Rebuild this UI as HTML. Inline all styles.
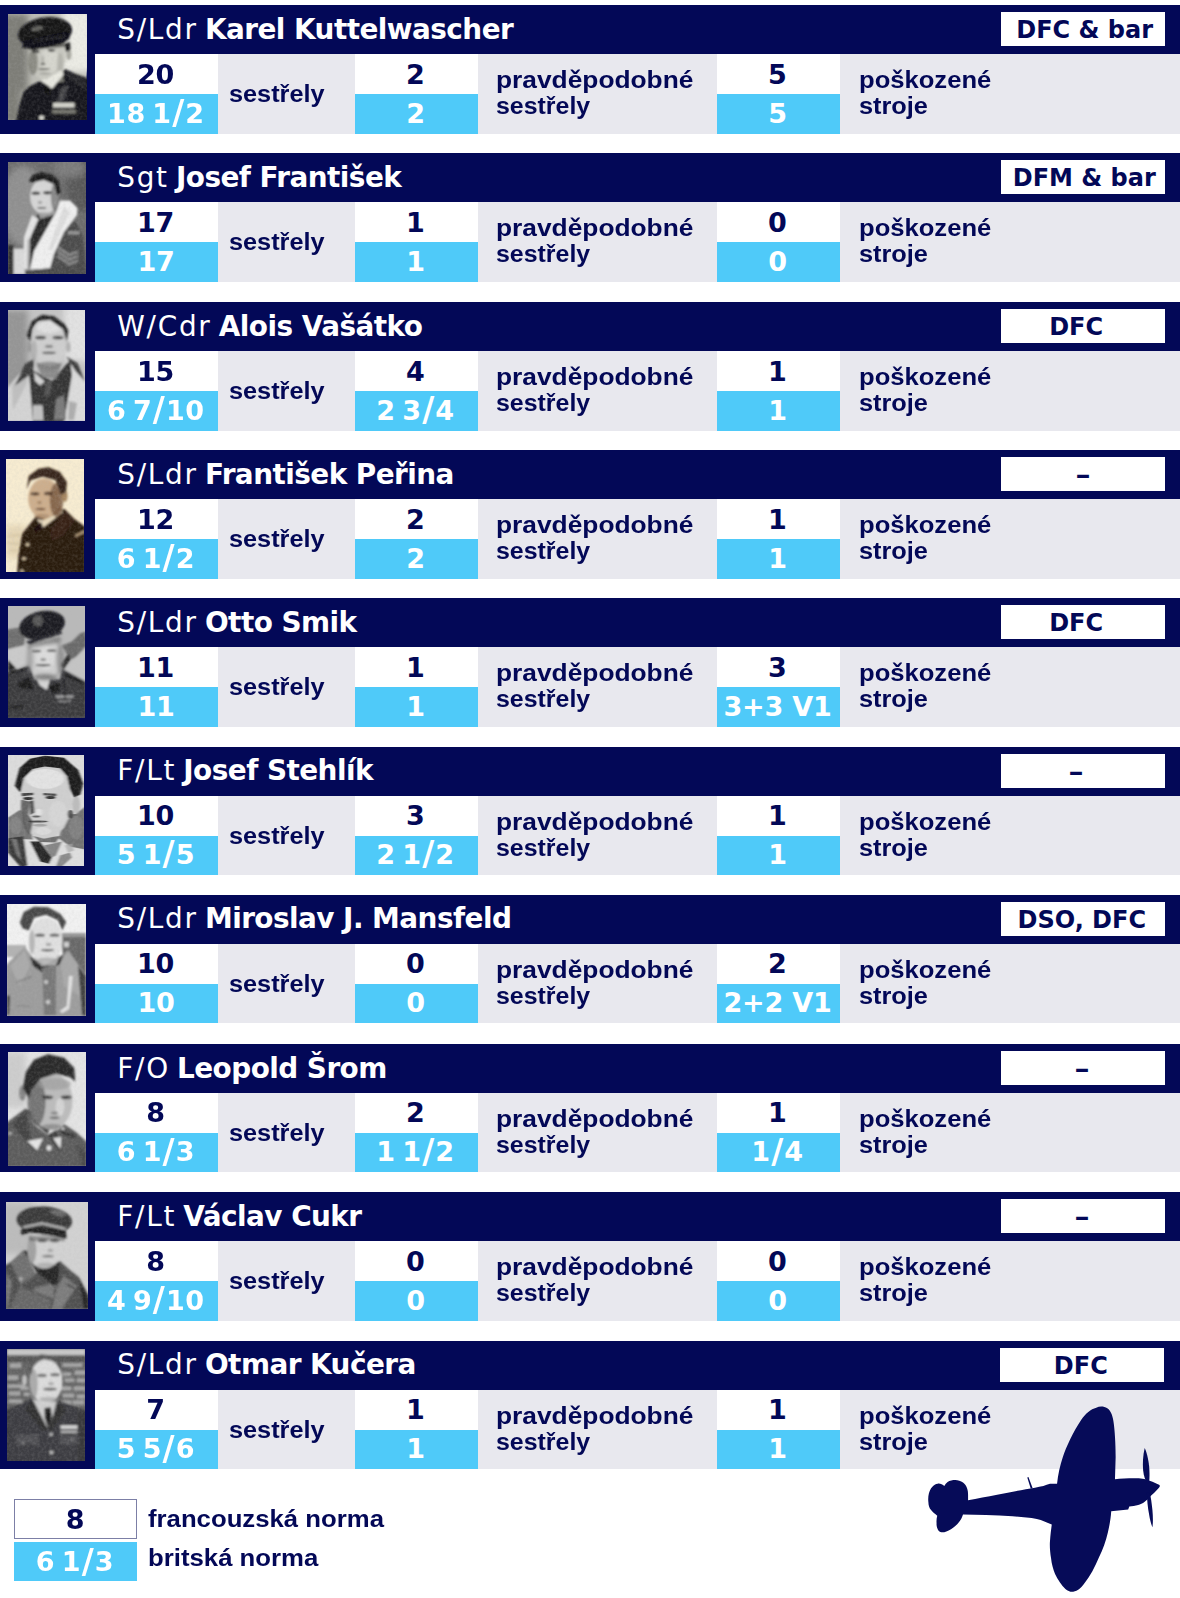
<!DOCTYPE html>
<html lang="cs"><head><meta charset="utf-8"><title>Nejúspěšnější českoslovenští stíhači</title>
<style>
html,body{margin:0;padding:0;background:#fff;}
body{width:1180px;height:1598px;position:relative;overflow:hidden;font-family:"Liberation Sans","DejaVu Sans",sans-serif;color:#030857;}
.card{position:absolute;left:0;width:1180px;height:128.7px;background:#030857;}
.grey{position:absolute;left:95px;top:49px;width:1085px;height:79.7px;background:#e8e8ee;}
.w{position:absolute;top:49px;height:40px;width:123px;background:#fff;}
.b{position:absolute;top:89px;height:39.7px;width:123px;background:#4fcaf9;}
.n{position:absolute;width:123px;text-align:center;font-family:"DejaVu Sans","Liberation Sans",sans-serif;font-weight:700;font-size:27px;letter-spacing:-0.35px;line-height:30px;height:30px;white-space:nowrap;}
.n1{top:54.5px;color:#030857;margin-left:-1px;}
.n2{top:93.8px;color:#fff;margin-left:-0.6px;}
.fr{word-spacing:-3.5px;letter-spacing:0.6px;}
.fr u{text-decoration:none;font-size:1.22em;line-height:0;position:relative;top:1.2px;margin:0 0.5px;}
.v1{letter-spacing:-0.2px;}
.l{position:absolute;font-weight:700;font-size:23.5px;line-height:26px;white-space:nowrap;color:#030857;transform-origin:0 0;}
.h{margin:0;font-weight:400;position:absolute;left:117.2px;top:8.9px;font-family:"DejaVu Sans","Liberation Sans",sans-serif;font-size:27.9px;line-height:32px;color:#fff;white-space:nowrap;}
.h b{font-weight:700;letter-spacing:-0.55px;}
.h i{font-style:normal;letter-spacing:1.75px;margin-right:-1.7px;}
.badge{position:absolute;left:1001.4px;top:7px;width:163.6px;height:34px;background:#fff;}
.bt{position:absolute;top:8.2px;height:34px;line-height:34px;font-family:"DejaVu Sans","Liberation Sans",sans-serif;font-weight:700;font-size:24px;white-space:nowrap;transform:translateX(-50%);color:#030857;}
.ph{position:absolute;overflow:hidden;}
.ph svg{display:block;}
.lg{position:absolute;left:13.5px;width:123px;}
</style></head><body>
<section class="card" style="top:5.1px">
<div class="grey"></div>
<div class="ph" style="left:8px;top:8.9px;width:78.5px;height:106.5px"><svg width="78.5" height="106.5" viewBox="80 140 785 1065" preserveAspectRatio="none"><defs><filter id="f0" filterUnits="userSpaceOnUse" x="-20" y="40" width="985" height="1265"><feGaussianBlur stdDeviation="8"/></filter><filter id="g0" filterUnits="userSpaceOnUse" x="-120" y="-60" width="1185" height="1465"><feGaussianBlur stdDeviation="32"/></filter><filter id="m0" filterUnits="userSpaceOnUse" x="-120" y="-60" width="1185" height="1465"><feGaussianBlur stdDeviation="16"/></filter><filter id="n0" x="0" y="0" width="100%" height="100%"><feTurbulence type="fractalNoise" baseFrequency="0.035" numOctaves="2" seed="3"/><feColorMatrix type="matrix" values="0 0 0 0 0.5  0 0 0 0 0.5  0 0 0 0 0.5  0.9 0 0 0 -0.32"/></filter></defs><rect x="80" y="140" width="785" height="1065" fill="#bdbdb6"/><rect x="20" y="140" width="260" height="1100" fill="#7d7d77" filter="url(#g0)"/><rect x="620" y="100" width="300" height="620" fill="#ecece5" filter="url(#g0)"/><rect x="200" y="900" width="120" height="320" fill="#a5a59f" filter="url(#g0)"/><g filter="url(#f0)"><polygon points="150,1260 195,1050 235,920 300,860 400,810 560,800 650,690 760,740 900,790 900,1260" fill="#17171b"/><polygon points="640,700 760,745 865,790 865,900 700,800" fill="#2c2c30" opacity="0.8"/><polygon points="400,760 620,700 640,820 420,830" fill="#77776f"/><polygon points="290,470 650,440 655,600 610,720 520,800 420,805 330,730 290,600" fill="#c8c8c0"/><ellipse cx="500" cy="600" rx="90" ry="130" fill="#dcdcd4" opacity="0.7"/><ellipse cx="330" cy="620" rx="48" ry="130" fill="#77776f" opacity="0.75"/><ellipse cx="600" cy="640" rx="30" ry="110" fill="#a0a098" opacity="0.5"/><ellipse cx="688" cy="545" rx="26" ry="55" fill="#a8a8a0"/><polygon points="640,440 700,420 705,500 660,520" fill="#1a1a1c"/><polygon points="285,462 640,430 640,470 290,500" fill="#3c3c38" opacity="0.7"/><ellipse cx="358" cy="517" rx="36" ry="14" fill="#262624" opacity="0.9"/><ellipse cx="515" cy="503" rx="36" ry="14" fill="#262624" opacity="0.9"/><ellipse cx="428" cy="600" rx="14" ry="45" fill="#9a9a92" opacity="0.6"/><ellipse cx="430" cy="640" rx="24" ry="12" fill="#55554f" opacity="0.8"/><ellipse cx="440" cy="692" rx="60.0" ry="9" fill="#44443f" opacity="0.8"/><ellipse cx="450" cy="735" rx="60" ry="14" fill="#9a9a92" opacity="0.6"/><polygon points="400,800 520,890 640,740 610,700 470,790" fill="#e8e8e0"/><polygon points="430,865 480,850 505,950 455,935" fill="#0e0e10"/><ellipse cx="450" cy="325" rx="272" ry="150" fill="#121216" transform="rotate(-8 450 325)"/><polygon points="215,470 330,500 620,440 700,380 660,330 250,420" fill="#101014"/><ellipse cx="370" cy="285" rx="62" ry="24" fill="#77776f" transform="rotate(-12 370 285)" opacity="0.8"/><line x1="330" y1="420" x2="640" y2="360" stroke="#3a3a3e" stroke-width="10" stroke-linecap="round" opacity="0.9"/><polygon points="610,880 690,850 640,1000 560,1050" fill="#46464a"/><rect x="530" y="1028" width="215" height="48" fill="#d4d4cc"/><rect x="520" y="1098" width="240" height="38" fill="#77776f"/><ellipse cx="415" cy="1178" rx="26" ry="22" fill="#deded6"/></g><rect x="80" y="140" width="785" height="1065" filter="url(#n0)" opacity="0.35"/></svg></div>
<h2 class="h"><i>S/Ldr</i> <b>Karel Kuttelwascher</b></h2>
<div class="badge"></div>
<div class="bt" style="left:1084.6px">DFC &amp; bar</div>
<div class="w" style="left:95px"></div><div class="b" style="left:95px"></div>
<div class="n n1" style="left:95px">20</div><div class="n n2 fr" style="left:95px">18 1<u>/</u>2</div>
<div class="w" style="left:354.6px"></div><div class="b" style="left:354.6px"></div>
<div class="n n1" style="left:354.6px">2</div><div class="n n2" style="left:354.6px">2</div>
<div class="w" style="left:716.6px"></div><div class="b" style="left:716.6px"></div>
<div class="n n1" style="left:716.6px">5</div><div class="n n2" style="left:716.6px">5</div>
<div class="l" style="left:228.6px;top:76.3px;transform:scaleX(1.075)">sestřely</div>
<div class="l" style="left:496.1px;top:62.3px;transform:scaleX(1.12)">pravděpodobné</div>
<div class="l" style="left:496.1px;top:88.3px;transform:scaleX(1.06)">sestřely</div>
<div class="l" style="left:859.3px;top:62.1px;transform:scaleX(1.089)">poškozené</div>
<div class="l" style="left:859.3px;top:88.1px;transform:scaleX(1.077)">stroje</div>
</section>
<section class="card" style="top:153.1px">
<div class="grey"></div>
<div class="ph" style="left:8px;top:8.9px;width:78px;height:112.5px"><svg width="78" height="112.5" viewBox="80 120 780 1125" preserveAspectRatio="none"><defs><filter id="f1" filterUnits="userSpaceOnUse" x="-20" y="20" width="980" height="1325"><feGaussianBlur stdDeviation="8"/></filter><filter id="g1" filterUnits="userSpaceOnUse" x="-120" y="-80" width="1180" height="1525"><feGaussianBlur stdDeviation="32"/></filter><filter id="m1" filterUnits="userSpaceOnUse" x="-120" y="-80" width="1180" height="1525"><feGaussianBlur stdDeviation="16"/></filter><filter id="n1" x="0" y="0" width="100%" height="100%"><feTurbulence type="fractalNoise" baseFrequency="0.035" numOctaves="2" seed="4"/><feColorMatrix type="matrix" values="0 0 0 0 0.5  0 0 0 0 0.5  0 0 0 0 0.5  0.9 0 0 0 -0.32"/></filter></defs><rect x="80" y="120" width="780" height="1125" fill="#6d6d6d"/><ellipse cx="230" cy="560" rx="220" ry="400" fill="#8f8f8f" filter="url(#g1)"/><ellipse cx="820" cy="300" rx="160" ry="320" fill="#585858" filter="url(#g1)"/><ellipse cx="700" cy="180" rx="160" ry="100" fill="#7c7c7c" filter="url(#g1)"/><g filter="url(#f1)"><polygon points="650,680 760,720 830,860 870,1260 480,1260 540,1000" fill="#4c4c4c"/><polygon points="575,955 690,1035 780,1005 780,1030 690,1065 575,985" fill="#9a9a9a" opacity="0.8"/><polygon points="575,1000 690,1080 780,1050 780,1075 690,1110 575,1030" fill="#9a9a9a" opacity="0.8"/><polygon points="575,1045 690,1125 780,1095 780,1120 690,1155 575,1075" fill="#9a9a9a" opacity="0.8"/><rect x="680" y="812" width="115" height="32" fill="#b0b0b0" opacity="0.75"/><polygon points="370,640 590,570 340,1050 290,1200 300,900" fill="#2a2a2a"/><polygon points="600,505 700,505 775,580 770,650 640,820 540,1040 500,1185 300,1195 340,1010 470,780 560,620" fill="#efefef"/><polygon points="640,560 700,620 520,1000 480,1000" fill="#d0d0d0" opacity="0.6"/><polygon points="320,650 385,690 300,880 290,1195 225,1195 240,870" fill="#e4e4e4"/><polygon points="275,900 300,880 295,1190 270,1190" fill="#9a9a9a" opacity="0.7"/><polygon points="130,985 235,985 250,1245 130,1245" fill="#dadada"/><rect x="80" y="950" width="55" height="300" fill="#303030"/><polygon points="250,1210 500,1180 600,1245 250,1245" fill="#484848"/><polygon points="380,600 540,560 560,640 400,690" fill="#9c9c9c"/><ellipse cx="440" cy="465" rx="140" ry="178" fill="#d6d6d6"/><ellipse cx="550" cy="470" rx="42" ry="140" fill="#7c7c7c" opacity="0.85"/><ellipse cx="358" cy="432" rx="44" ry="17" fill="#2c2c2c" opacity="0.85"/><ellipse cx="475" cy="428" rx="44" ry="17" fill="#2c2c2c" opacity="0.85"/><ellipse cx="400" cy="525" rx="22" ry="14" fill="#888" opacity="0.7"/><ellipse cx="418" cy="580" rx="46.0" ry="11" fill="#4a4a4a" opacity="0.8"/><ellipse cx="430" cy="640" rx="80" ry="20" fill="#999" opacity="0.6"/><polygon points="290,310 325,250 420,222 520,248 588,310 605,430 565,450 545,345 440,300 320,325" fill="#1c1c1c"/></g><rect x="80" y="120" width="780" height="1125" filter="url(#n1)" opacity="0.35"/></svg></div>
<h2 class="h"><i>Sgt</i> <b>Josef František</b></h2>
<div class="badge"></div>
<div class="bt" style="left:1084.3px">DFM &amp; bar</div>
<div class="w" style="left:95px"></div><div class="b" style="left:95px"></div>
<div class="n n1" style="left:95px">17</div><div class="n n2" style="left:95px">17</div>
<div class="w" style="left:354.6px"></div><div class="b" style="left:354.6px"></div>
<div class="n n1" style="left:354.6px">1</div><div class="n n2" style="left:354.6px">1</div>
<div class="w" style="left:716.6px"></div><div class="b" style="left:716.6px"></div>
<div class="n n1" style="left:716.6px">0</div><div class="n n2" style="left:716.6px">0</div>
<div class="l" style="left:228.6px;top:76.3px;transform:scaleX(1.075)">sestřely</div>
<div class="l" style="left:496.1px;top:62.3px;transform:scaleX(1.12)">pravděpodobné</div>
<div class="l" style="left:496.1px;top:88.3px;transform:scaleX(1.06)">sestřely</div>
<div class="l" style="left:859.3px;top:62.1px;transform:scaleX(1.089)">poškozené</div>
<div class="l" style="left:859.3px;top:88.1px;transform:scaleX(1.077)">stroje</div>
</section>
<section class="card" style="top:302.0px">
<div class="grey"></div>
<div class="ph" style="left:8px;top:8.0px;width:77px;height:110.5px"><svg width="77" height="110.5" viewBox="80 150 770 1105" preserveAspectRatio="none"><defs><filter id="f2" filterUnits="userSpaceOnUse" x="-20" y="50" width="970" height="1305"><feGaussianBlur stdDeviation="8"/></filter><filter id="g2" filterUnits="userSpaceOnUse" x="-120" y="-50" width="1170" height="1505"><feGaussianBlur stdDeviation="32"/></filter><filter id="m2" filterUnits="userSpaceOnUse" x="-120" y="-50" width="1170" height="1505"><feGaussianBlur stdDeviation="16"/></filter><filter id="n2" x="0" y="0" width="100%" height="100%"><feTurbulence type="fractalNoise" baseFrequency="0.035" numOctaves="2" seed="5"/><feColorMatrix type="matrix" values="0 0 0 0 0.5  0 0 0 0 0.5  0 0 0 0 0.5  0.9 0 0 0 -0.32"/></filter></defs><rect x="80" y="150" width="770" height="1105" fill="#c4c4c4"/><rect x="20" y="150" width="260" height="760" fill="#959595" filter="url(#g2)"/><rect x="640" y="100" width="260" height="560" fill="#e2e2e2" filter="url(#g2)"/><g filter="url(#f2)"><polygon points="60,960 130,860 310,660 360,760 330,1270 60,1270" fill="#d4d4d4"/><polygon points="660,620 760,680 870,880 870,1270 630,1270 700,800" fill="#dcdcdc"/><polygon points="120,900 300,700 260,900 130,1150" fill="#aaa" opacity="0.5"/><polygon points="280,700 340,760 520,860 700,650 720,800 640,1270 330,1270 300,900" fill="#363636"/><polygon points="250,690 335,640 335,770 150,905" fill="#3e3e3e"/><polygon points="660,615 775,680 850,865 755,760" fill="#3e3e3e"/><polygon points="340,770 450,865 400,905 350,860" fill="#d4d4d4"/><polygon points="460,870 520,860 500,1000 440,1010" fill="#555"/><polygon points="330,1100 425,1100 435,1255 330,1255" fill="#c2c2c2"/><polygon points="560,1040 640,1000 660,1250 540,1250" fill="#7a7a7a"/><polygon points="690,1060 770,1080 740,1250 680,1250" fill="#999" opacity="0.7"/><polygon points="360,680 620,680 560,840 420,820" fill="#8a8a8a"/><ellipse cx="490" cy="480" rx="178" ry="232" fill="#cfcfcf"/><ellipse cx="490" cy="320" rx="130" ry="60" fill="#e4e4e4" opacity="0.8"/><ellipse cx="490" cy="705" rx="110" ry="40" fill="#7a7a7a" opacity="0.7"/><ellipse cx="405" cy="425" rx="55" ry="18" fill="#333" opacity="0.85"/><ellipse cx="580" cy="425" rx="55" ry="18" fill="#333" opacity="0.85"/><ellipse cx="490" cy="515" rx="40" ry="14" fill="#555" opacity="0.7"/><ellipse cx="490" cy="578" rx="70.0" ry="13" fill="#444" opacity="0.8"/><ellipse cx="290" cy="520" rx="24" ry="52" fill="#9a9a9a"/><ellipse cx="682" cy="520" rx="22" ry="52" fill="#b0b0b0"/><ellipse cx="340" cy="560" rx="30" ry="110" fill="#999" opacity="0.5"/><polygon points="268,400 318,262 420,198 540,212 642,288 682,352 668,470 632,342 500,248 380,258 322,330 306,470" fill="#202020"/></g><rect x="80" y="150" width="770" height="1105" filter="url(#n2)" opacity="0.35"/></svg></div>
<h2 class="h"><i>W/Cdr</i> <b>Alois Vašátko</b></h2>
<div class="badge"></div>
<div class="bt" style="left:1076.1px">DFC</div>
<div class="w" style="left:95px"></div><div class="b" style="left:95px"></div>
<div class="n n1" style="left:95px">15</div><div class="n n2 fr" style="left:95px">6 7<u>/</u>10</div>
<div class="w" style="left:354.6px"></div><div class="b" style="left:354.6px"></div>
<div class="n n1" style="left:354.6px">4</div><div class="n n2 fr" style="left:354.6px">2 3<u>/</u>4</div>
<div class="w" style="left:716.6px"></div><div class="b" style="left:716.6px"></div>
<div class="n n1" style="left:716.6px">1</div><div class="n n2" style="left:716.6px">1</div>
<div class="l" style="left:228.6px;top:76.3px;transform:scaleX(1.075)">sestřely</div>
<div class="l" style="left:496.1px;top:62.3px;transform:scaleX(1.12)">pravděpodobné</div>
<div class="l" style="left:496.1px;top:88.3px;transform:scaleX(1.06)">sestřely</div>
<div class="l" style="left:859.3px;top:62.1px;transform:scaleX(1.089)">poškozené</div>
<div class="l" style="left:859.3px;top:88.1px;transform:scaleX(1.077)">stroje</div>
</section>
<section class="card" style="top:450.1px">
<div class="grey"></div>
<div class="ph" style="left:5.5px;top:8.9px;width:78.5px;height:113.5px"><svg width="78.5" height="113.5" viewBox="55 190 785 1135" preserveAspectRatio="none"><defs><filter id="f3" filterUnits="userSpaceOnUse" x="-45" y="90" width="985" height="1335"><feGaussianBlur stdDeviation="8"/></filter><filter id="g3" filterUnits="userSpaceOnUse" x="-145" y="-10" width="1185" height="1535"><feGaussianBlur stdDeviation="32"/></filter><filter id="m3" filterUnits="userSpaceOnUse" x="-145" y="-10" width="1185" height="1535"><feGaussianBlur stdDeviation="16"/></filter><filter id="n3" x="0" y="0" width="100%" height="100%"><feTurbulence type="fractalNoise" baseFrequency="0.035" numOctaves="2" seed="6"/><feColorMatrix type="matrix" values="0 0 0 0 0.5  0 0 0 0 0.5  0 0 0 0 0.5  0.9 0 0 0 -0.32"/></filter></defs><rect x="55" y="190" width="785" height="1135" fill="#f7ecd1"/><rect x="55" y="850" width="200" height="330" fill="#e2d2b0" filter="url(#g3)" opacity="0.8"/><g filter="url(#f3)"><line x1="70" y1="960" x2="200" y2="950" stroke="#c9b894" stroke-width="12" stroke-linecap="round" opacity="0.7"/><line x1="70" y1="1030" x2="190" y2="1040" stroke="#c9b894" stroke-width="12" stroke-linecap="round" opacity="0.7"/><line x1="90" y1="1100" x2="180" y2="1110" stroke="#c9b894" stroke-width="12" stroke-linecap="round" opacity="0.6"/><polygon points="165,1340 180,1150 215,940 350,770 640,690 740,790 850,870 850,1340" fill="#2c1a10"/><polygon points="500,900 640,720 740,800 620,960 520,1000" fill="#3a2418" opacity="0.9"/><polygon points="360,790 430,872 625,722 600,698 420,800" fill="#eadcbe"/><polygon points="335,885 412,822 422,885 352,915" fill="#1c100a"/><ellipse cx="270" cy="1045" rx="19" ry="16" fill="#dccba8"/><ellipse cx="235" cy="1185" rx="19" ry="16" fill="#dccba8"/><ellipse cx="215" cy="1310" rx="19" ry="14" fill="#dccba8"/><polygon points="745,950 840,900 840,928 750,972" fill="#b59e7a"/><polygon points="380,740 600,660 610,720 430,800" fill="#9a7a5c"/><ellipse cx="435" cy="585" rx="158" ry="200" fill="#cdae8c"/><ellipse cx="560" cy="600" rx="68" ry="170" fill="#76563e" opacity="0.8"/><ellipse cx="642" cy="560" rx="28" ry="60" fill="#a5855f"/><ellipse cx="345" cy="538" rx="46" ry="17" fill="#3a2416" opacity="0.85"/><ellipse cx="480" cy="534" rx="46" ry="17" fill="#3a2416" opacity="0.85"/><ellipse cx="390" cy="625" rx="24" ry="14" fill="#8a6a4e" opacity="0.7"/><ellipse cx="400" cy="690" rx="50.0" ry="11" fill="#4e2e1e" opacity="0.8"/><ellipse cx="410" cy="760" rx="80" ry="20" fill="#9c7c5e" opacity="0.6"/><polygon points="262,495 282,360 380,288 480,272 592,318 664,420 655,525 602,545 552,402 420,368 300,402" fill="#38261a"/></g><rect x="55" y="190" width="785" height="1135" filter="url(#n3)" opacity="0.35"/></svg></div>
<h2 class="h"><i>S/Ldr</i> <b>František Peřina</b></h2>
<div class="badge"></div>
<div class="bt" style="left:1082.9px;top:8.2px;transform:translateX(-50%) scaleX(1.25)">–</div>
<div class="w" style="left:95px"></div><div class="b" style="left:95px"></div>
<div class="n n1" style="left:95px">12</div><div class="n n2 fr" style="left:95px">6 1<u>/</u>2</div>
<div class="w" style="left:354.6px"></div><div class="b" style="left:354.6px"></div>
<div class="n n1" style="left:354.6px">2</div><div class="n n2" style="left:354.6px">2</div>
<div class="w" style="left:716.6px"></div><div class="b" style="left:716.6px"></div>
<div class="n n1" style="left:716.6px">1</div><div class="n n2" style="left:716.6px">1</div>
<div class="l" style="left:228.6px;top:76.3px;transform:scaleX(1.075)">sestřely</div>
<div class="l" style="left:496.1px;top:62.3px;transform:scaleX(1.12)">pravděpodobné</div>
<div class="l" style="left:496.1px;top:88.3px;transform:scaleX(1.06)">sestřely</div>
<div class="l" style="left:859.3px;top:62.1px;transform:scaleX(1.089)">poškozené</div>
<div class="l" style="left:859.3px;top:88.1px;transform:scaleX(1.077)">stroje</div>
</section>
<section class="card" style="top:598.1px">
<div class="grey"></div>
<div class="ph" style="left:8px;top:8.4px;width:77px;height:111.5px"><svg width="77" height="111.5" viewBox="80 165 770 1115" preserveAspectRatio="none"><defs><filter id="f4" filterUnits="userSpaceOnUse" x="-20" y="65" width="970" height="1315"><feGaussianBlur stdDeviation="8"/></filter><filter id="g4" filterUnits="userSpaceOnUse" x="-120" y="-35" width="1170" height="1515"><feGaussianBlur stdDeviation="32"/></filter><filter id="m4" filterUnits="userSpaceOnUse" x="-120" y="-35" width="1170" height="1515"><feGaussianBlur stdDeviation="16"/></filter><filter id="n4" x="0" y="0" width="100%" height="100%"><feTurbulence type="fractalNoise" baseFrequency="0.035" numOctaves="2" seed="7"/><feColorMatrix type="matrix" values="0 0 0 0 0.5  0 0 0 0 0.5  0 0 0 0 0.5  0.9 0 0 0 -0.32"/></filter></defs><rect x="80" y="165" width="770" height="1115" fill="#b9b9b9"/><g filter="url(#f4)"><polygon points="60,400 200,380 250,470 240,560 60,600" fill="#6e6e6e"/><polygon points="620,560 720,520 800,440 860,420 860,640 700,700" fill="#6a6a6a"/><polygon points="80,600 250,555 320,700 180,790 80,700" fill="#cacaca"/><polygon points="640,800 860,570 860,920" fill="#c4c4c4"/><polygon points="80,700 160,790 80,820" fill="#202020"/><polygon points="600,760 685,640 705,700 640,800" fill="#2c2c2c"/><polygon points="60,830 300,760 340,900 600,900 620,790 860,920 860,1290 60,1290" fill="#3a3a3e"/><polygon points="170,940 300,870 335,1000 200,990" fill="#1e1e1e"/><polygon points="480,960 600,930 600,1020 520,1040" fill="#1e1e1e"/><polygon points="90,820 280,775 270,800 100,850" fill="#1c1c1c"/><polygon points="640,830 830,920 820,950 640,860" fill="#1c1c1c"/><polygon points="330,830 400,960 470,1005 500,900 420,880" fill="#d6d6d6"/><rect x="560" y="1058" width="175" height="26" fill="#b0b0b0" opacity="0.85"/><rect x="580" y="1105" width="130" height="22" fill="#8a8a8a" opacity="0.8"/><polygon points="80,1160 250,1150 230,1200 80,1190" fill="#222" opacity="0.7"/><line x1="640" y1="900" x2="650" y2="1100" stroke="#1a1a1a" stroke-width="16" stroke-linecap="round" opacity="0.8"/><ellipse cx="448" cy="690" rx="165" ry="195" fill="#cfcfcf"/><ellipse cx="455" cy="680" rx="95" ry="120" fill="#e0e0e0" filter="url(#m4)" opacity="0.8"/><ellipse cx="298" cy="700" rx="32" ry="140" fill="#8a8a8a" filter="url(#m4)" opacity="0.6"/><ellipse cx="603" cy="700" rx="36" ry="150" fill="#7a7a7a" filter="url(#m4)" opacity="0.7"/><polygon points="285,530 605,470 610,530 290,580" fill="#606060" filter="url(#m4)" opacity="0.6"/><ellipse cx="365" cy="617" rx="48" ry="11" fill="#3a3a3a" opacity="0.85"/><ellipse cx="515" cy="612" rx="48" ry="11" fill="#3a3a3a" opacity="0.85"/><ellipse cx="432" cy="702" rx="30" ry="14" fill="#777" opacity="0.8"/><ellipse cx="432" cy="757" rx="77.5" ry="13" fill="#3c3c3c" opacity="0.8"/><ellipse cx="450" cy="875" rx="120" ry="30" fill="#6a6a6a" filter="url(#m4)" opacity="0.8"/><ellipse cx="420" cy="358" rx="232" ry="140" fill="#1c1c20" transform="rotate(-12 420 358)"/><polygon points="258,522 600,408 625,440 300,548" fill="#2c2c30"/><ellipse cx="378" cy="312" rx="52" ry="58" fill="#6a6a6a" opacity="0.75"/></g><rect x="80" y="165" width="770" height="1115" filter="url(#n4)" opacity="0.35"/></svg></div>
<h2 class="h"><i>S/Ldr</i> <b>Otto Smik</b></h2>
<div class="badge"></div>
<div class="bt" style="left:1076.1px">DFC</div>
<div class="w" style="left:95px"></div><div class="b" style="left:95px"></div>
<div class="n n1" style="left:95px">11</div><div class="n n2" style="left:95px">11</div>
<div class="w" style="left:354.6px"></div><div class="b" style="left:354.6px"></div>
<div class="n n1" style="left:354.6px">1</div><div class="n n2" style="left:354.6px">1</div>
<div class="w" style="left:716.6px"></div><div class="b" style="left:716.6px"></div>
<div class="n n1" style="left:716.6px">3</div><div class="n n2 v1" style="left:716.6px">3+3 V1</div>
<div class="l" style="left:228.6px;top:76.3px;transform:scaleX(1.075)">sestřely</div>
<div class="l" style="left:496.1px;top:62.3px;transform:scaleX(1.12)">pravděpodobné</div>
<div class="l" style="left:496.1px;top:88.3px;transform:scaleX(1.06)">sestřely</div>
<div class="l" style="left:859.3px;top:62.1px;transform:scaleX(1.089)">poškozené</div>
<div class="l" style="left:859.3px;top:88.1px;transform:scaleX(1.077)">stroje</div>
</section>
<section class="card" style="top:746.5px">
<div class="grey"></div>
<div class="ph" style="left:8px;top:8.5px;width:76px;height:111px"><svg width="76" height="111" viewBox="80 170 760 1115" preserveAspectRatio="none"><defs><filter id="f5" filterUnits="userSpaceOnUse" x="-20" y="70" width="960" height="1315"><feGaussianBlur stdDeviation="8"/></filter><filter id="g5" filterUnits="userSpaceOnUse" x="-120" y="-30" width="1160" height="1515"><feGaussianBlur stdDeviation="32"/></filter><filter id="m5" filterUnits="userSpaceOnUse" x="-120" y="-30" width="1160" height="1515"><feGaussianBlur stdDeviation="16"/></filter><filter id="n5" x="0" y="0" width="100%" height="100%"><feTurbulence type="fractalNoise" baseFrequency="0.035" numOctaves="2" seed="8"/><feColorMatrix type="matrix" values="0 0 0 0 0.5  0 0 0 0 0.5  0 0 0 0 0.5  0.9 0 0 0 -0.32"/></filter></defs><rect x="80" y="170" width="760" height="1115" fill="#dcdcdc"/><g filter="url(#f5)"><polygon points="230,980 600,990 700,1080 850,1110 850,1300 230,1300" fill="#dedede"/><polygon points="80,800 200,720 300,900 330,1020 80,1010" fill="#767676"/><polygon points="640,780 760,760 850,690 850,1120 700,1090 590,1010" fill="#727272"/><ellipse cx="760" cy="900" rx="70" ry="120" fill="#8a8a8a" opacity="0.6"/><ellipse cx="160" cy="880" rx="60" ry="90" fill="#8c8c8c" opacity="0.6"/><polygon points="80,1005 235,985 275,1280 200,1290 80,1150" fill="#3a3a3a"/><polygon points="110,1010 170,1020 215,1230 170,1180" fill="#8a8a8a" opacity="0.7"/><polygon points="300,1040 400,1040 520,1200 490,1262 400,1240" fill="#282828"/><polygon points="440,1080 620,1040 560,1180 520,1200" fill="#858585"/><polygon points="600,1180 700,1150 720,1200 620,1290 560,1290" fill="#8a8a8a"/><polygon points="650,1080 720,1060 740,1130 680,1150" fill="#aaa" opacity="0.7"/><polygon points="330,985 600,985 560,1050 400,1045" fill="#5a5a5a" opacity="0.85"/><polygon points="215,540 240,400 330,310 450,285 600,300 670,380 700,520 722,640 700,780 640,900 560,985 440,1012 330,982 260,900 215,760" fill="#cfcfcf"/><ellipse cx="450" cy="410" rx="190" ry="100" fill="#e6e6e6" opacity="0.85"/><ellipse cx="580" cy="760" rx="90" ry="130" fill="#dadada" opacity="0.6"/><polygon points="212,620 300,640 285,770 330,840 300,978 238,892 208,760" fill="#545454" opacity="0.85"/><polygon points="215,555 335,548 335,572 218,585" fill="#2a2a2a" opacity="0.85"/><polygon points="430,552 565,560 565,582 430,575" fill="#2a2a2a" opacity="0.8"/><ellipse cx="282" cy="606" rx="52" ry="15" fill="#222" opacity="0.9"/><ellipse cx="505" cy="596" rx="52" ry="15" fill="#222" opacity="0.9"/><polygon points="298,632 336,626 346,748 300,772" fill="#383838" opacity="0.85"/><ellipse cx="388" cy="742" rx="36" ry="32" fill="#e6e6e6" opacity="0.8"/><ellipse cx="362" cy="788" rx="42" ry="10" fill="#4a4a4a" opacity="0.8"/><ellipse cx="380" cy="838" rx="100.0" ry="10" fill="#303030" opacity="0.8"/><ellipse cx="400" cy="875" rx="70" ry="14" fill="#8a8a8a" opacity="0.6"/><ellipse cx="430" cy="935" rx="80" ry="38" fill="#e0e0e0" opacity="0.7"/><ellipse cx="762" cy="670" rx="40" ry="90" fill="#bcbcbc"/><ellipse cx="705" cy="765" rx="28" ry="42" fill="#3a3a3a" opacity="0.8"/><polygon points="148,478 196,300 300,208 450,178 640,198 782,320 832,460 802,568 742,598 700,520 668,380 600,302 450,286 330,310 238,402 205,548" fill="#1d1d1d"/></g><rect x="80" y="170" width="760" height="1115" filter="url(#n5)" opacity="0.35"/></svg></div>
<h2 class="h"><i>F/Lt</i> <b>Josef Stehlík</b></h2>
<div class="badge"></div>
<div class="bt" style="left:1076.2px;top:8.2px;transform:translateX(-50%) scaleX(1.25)">–</div>
<div class="w" style="left:95px"></div><div class="b" style="left:95px"></div>
<div class="n n1" style="left:95px">10</div><div class="n n2 fr" style="left:95px">5 1<u>/</u>5</div>
<div class="w" style="left:354.6px"></div><div class="b" style="left:354.6px"></div>
<div class="n n1" style="left:354.6px">3</div><div class="n n2 fr" style="left:354.6px">2 1<u>/</u>2</div>
<div class="w" style="left:716.6px"></div><div class="b" style="left:716.6px"></div>
<div class="n n1" style="left:716.6px">1</div><div class="n n2" style="left:716.6px">1</div>
<div class="l" style="left:228.6px;top:76.3px;transform:scaleX(1.075)">sestřely</div>
<div class="l" style="left:496.1px;top:62.3px;transform:scaleX(1.12)">pravděpodobné</div>
<div class="l" style="left:496.1px;top:88.3px;transform:scaleX(1.06)">sestřely</div>
<div class="l" style="left:859.3px;top:62.1px;transform:scaleX(1.089)">poškozené</div>
<div class="l" style="left:859.3px;top:88.1px;transform:scaleX(1.077)">stroje</div>
</section>
<section class="card" style="top:894.6px">
<div class="grey"></div>
<div class="ph" style="left:7px;top:9.4px;width:79px;height:112px"><svg width="79" height="112" viewBox="70 180 790 1120" preserveAspectRatio="none"><defs><filter id="f6" filterUnits="userSpaceOnUse" x="-30" y="80" width="990" height="1320"><feGaussianBlur stdDeviation="8"/></filter><filter id="g6" filterUnits="userSpaceOnUse" x="-130" y="-20" width="1190" height="1520"><feGaussianBlur stdDeviation="32"/></filter><filter id="m6" filterUnits="userSpaceOnUse" x="-130" y="-20" width="1190" height="1520"><feGaussianBlur stdDeviation="16"/></filter><filter id="n6" x="0" y="0" width="100%" height="100%"><feTurbulence type="fractalNoise" baseFrequency="0.035" numOctaves="2" seed="9"/><feColorMatrix type="matrix" values="0 0 0 0 0.5  0 0 0 0 0.5  0 0 0 0 0.5  0.9 0 0 0 -0.32"/></filter></defs><rect x="70" y="180" width="790" height="1120" fill="#f1f1f1"/><g filter="url(#f6)"><polygon points="600,470 860,470 860,900 640,760" fill="#686868"/><rect x="60" y="590" width="200" height="120" fill="#b2b2b2"/><rect x="640" y="560" width="50" height="50" fill="#cfcfcf"/><rect x="600" y="470" width="260" height="40" fill="#aaa" opacity="0.7"/><polygon points="60,790 130,720 250,610 330,720 600,720 680,640 780,780 870,900 870,1310 60,1310" fill="#9c9c9c"/><polygon points="100,800 250,640 300,800 200,1000" fill="#b4b4b4" opacity="0.6"/><polygon points="600,740 690,660 780,800 800,1100 640,1000" fill="#b0b0b0" opacity="0.6"/><polygon points="300,700 420,800 520,760 640,680 600,780 430,870 330,800" fill="#2c2c2c"/><polygon points="420,820 560,780 560,1290 440,1290" fill="#787878"/><polygon points="780,800 860,900 860,1300 820,1290" fill="#404040"/><polygon points="690,900 728,900 692,1230 620,1272 598,1250 668,1200" fill="#e4e4e4"/><polygon points="70,1100 100,1090 90,1290 70,1290" fill="#303030"/><ellipse cx="460" cy="960" rx="20" ry="20" fill="#ccc"/><ellipse cx="480" cy="1160" rx="22" ry="22" fill="#ccc"/><line x1="170" y1="960" x2="310" y2="910" stroke="#666" stroke-width="14" stroke-linecap="round" opacity="0.6"/><line x1="170" y1="1200" x2="300" y2="1200" stroke="#666" stroke-width="12" stroke-linecap="round" opacity="0.5"/><polygon points="360,700 600,690 560,790 420,800" fill="#aaa"/><ellipse cx="455" cy="545" rx="170" ry="225" fill="#e0e0e0"/><ellipse cx="400" cy="492" rx="50" ry="16" fill="#444" opacity="0.8"/><ellipse cx="545" cy="492" rx="50" ry="16" fill="#444" opacity="0.8"/><ellipse cx="485" cy="585" rx="30" ry="14" fill="#888" opacity="0.7"/><ellipse cx="475" cy="642" rx="67.5" ry="12" fill="#3c3c3c" opacity="0.8"/><ellipse cx="320" cy="560" rx="28" ry="120" fill="#999" opacity="0.6"/><ellipse cx="470" cy="740" rx="100" ry="25" fill="#999" opacity="0.6"/><polygon points="198,365 238,260 340,208 480,212 602,278 662,360 622,445 580,342 460,288 340,318 290,445 228,425" fill="#464646"/></g><rect x="70" y="180" width="790" height="1120" filter="url(#n6)" opacity="0.35"/></svg></div>
<h2 class="h"><i>S/Ldr</i> <b>Miroslav J. Mansfeld</b></h2>
<div class="badge"></div>
<div class="bt" style="left:1081.8px">DSO, DFC</div>
<div class="w" style="left:95px"></div><div class="b" style="left:95px"></div>
<div class="n n1" style="left:95px">10</div><div class="n n2" style="left:95px">10</div>
<div class="w" style="left:354.6px"></div><div class="b" style="left:354.6px"></div>
<div class="n n1" style="left:354.6px">0</div><div class="n n2" style="left:354.6px">0</div>
<div class="w" style="left:716.6px"></div><div class="b" style="left:716.6px"></div>
<div class="n n1" style="left:716.6px">2</div><div class="n n2 v1" style="left:716.6px">2+2 V1</div>
<div class="l" style="left:228.6px;top:76.3px;transform:scaleX(1.075)">sestřely</div>
<div class="l" style="left:496.1px;top:62.3px;transform:scaleX(1.12)">pravděpodobné</div>
<div class="l" style="left:496.1px;top:88.3px;transform:scaleX(1.06)">sestřely</div>
<div class="l" style="left:859.3px;top:62.1px;transform:scaleX(1.089)">poškozené</div>
<div class="l" style="left:859.3px;top:88.1px;transform:scaleX(1.077)">stroje</div>
</section>
<section class="card" style="top:1043.7px">
<div class="grey"></div>
<div class="ph" style="left:8px;top:8.3px;width:78px;height:114px"><svg width="78" height="114" viewBox="80 180 780 1140" preserveAspectRatio="none"><defs><filter id="f7" filterUnits="userSpaceOnUse" x="-20" y="80" width="980" height="1340"><feGaussianBlur stdDeviation="8"/></filter><filter id="g7" filterUnits="userSpaceOnUse" x="-120" y="-20" width="1180" height="1540"><feGaussianBlur stdDeviation="32"/></filter><filter id="m7" filterUnits="userSpaceOnUse" x="-120" y="-20" width="1180" height="1540"><feGaussianBlur stdDeviation="16"/></filter><filter id="n7" x="0" y="0" width="100%" height="100%"><feTurbulence type="fractalNoise" baseFrequency="0.035" numOctaves="2" seed="10"/><feColorMatrix type="matrix" values="0 0 0 0 0.5  0 0 0 0 0.5  0 0 0 0 0.5  0.9 0 0 0 -0.32"/></filter></defs><rect x="80" y="180" width="780" height="1140" fill="#e4e4e4"/><rect x="20" y="180" width="240" height="560" fill="#cdcdcd" filter="url(#g7)"/><g filter="url(#f7)"><polygon points="60,890 260,740 330,900 480,1010 600,950 640,900 760,980 870,1080 870,1330 60,1330" fill="#5c5c5c"/><polygon points="260,760 330,880 480,1000 500,900 420,860 300,760" fill="#2c2c2c"/><polygon points="120,900 260,760 300,1000 350,1170 280,1100" fill="#404040" opacity="0.85"/><polygon points="480,1010 560,960 620,1160 590,1170" fill="#3a3a3a" opacity="0.85"/><polygon points="270,1070 432,1043 372,1162" fill="#e4e4e4"/><polygon points="530,1040 612,1030 606,1152" fill="#e0e0e0"/><ellipse cx="490" cy="1140" rx="25" ry="28" fill="#e0e0e0"/><polygon points="600,960 760,1010 740,1042 610,992" fill="#303030"/><ellipse cx="630" cy="945" rx="16" ry="16" fill="#ccc"/><ellipse cx="100" cy="995" rx="16" ry="14" fill="#bbb"/><polygon points="760,1100 860,1180 860,1320 820,1320" fill="#444" opacity="0.7"/><ellipse cx="510" cy="670" rx="215" ry="285" fill="#bcbcbc"/><ellipse cx="365" cy="680" rx="90" ry="235" fill="#686868" opacity="0.85"/><ellipse cx="540" cy="500" rx="170" ry="60" fill="#999" opacity="0.6"/><ellipse cx="475" cy="632" rx="55" ry="18" fill="#222" opacity="0.85"/><ellipse cx="662" cy="632" rx="55" ry="18" fill="#222" opacity="0.85"/><ellipse cx="600" cy="730" rx="45" ry="90" fill="#e0e0e0" opacity="0.7"/><ellipse cx="545" cy="790" rx="36" ry="14" fill="#666" opacity="0.7"/><ellipse cx="545" cy="838" rx="50.0" ry="11" fill="#4a4a4a" opacity="0.8"/><ellipse cx="520" cy="930" rx="110" ry="30" fill="#777" opacity="0.6"/><ellipse cx="225" cy="590" rx="34" ry="78" fill="#858585"/><polygon points="228,545 258,380 340,258 480,202 642,238 742,340 752,475 702,432 560,398 400,450 312,562 292,645" fill="#2a2a2a"/></g><rect x="80" y="180" width="780" height="1140" filter="url(#n7)" opacity="0.35"/></svg></div>
<h2 class="h"><i>F/O</i> <b>Leopold Šrom</b></h2>
<div class="badge"></div>
<div class="bt" style="left:1081.7px;top:8.2px;transform:translateX(-50%) scaleX(1.25)">–</div>
<div class="w" style="left:95px"></div><div class="b" style="left:95px"></div>
<div class="n n1" style="left:95px">8</div><div class="n n2 fr" style="left:95px">6 1<u>/</u>3</div>
<div class="w" style="left:354.6px"></div><div class="b" style="left:354.6px"></div>
<div class="n n1" style="left:354.6px">2</div><div class="n n2 fr" style="left:354.6px">1 1<u>/</u>2</div>
<div class="w" style="left:716.6px"></div><div class="b" style="left:716.6px"></div>
<div class="n n1" style="left:716.6px">1</div><div class="n n2 fr" style="left:716.6px">1<u>/</u>4</div>
<div class="l" style="left:228.6px;top:76.3px;transform:scaleX(1.075)">sestřely</div>
<div class="l" style="left:496.1px;top:62.3px;transform:scaleX(1.12)">pravděpodobné</div>
<div class="l" style="left:496.1px;top:88.3px;transform:scaleX(1.06)">sestřely</div>
<div class="l" style="left:859.3px;top:62.1px;transform:scaleX(1.089)">poškozené</div>
<div class="l" style="left:859.3px;top:88.1px;transform:scaleX(1.077)">stroje</div>
</section>
<section class="card" style="top:1192.0px">
<div class="grey"></div>
<div class="ph" style="left:6px;top:10.0px;width:82px;height:107px"><svg width="82" height="107" viewBox="62 200 820 1070" preserveAspectRatio="none"><defs><filter id="f8" filterUnits="userSpaceOnUse" x="-38" y="100" width="1020" height="1270"><feGaussianBlur stdDeviation="8"/></filter><filter id="g8" filterUnits="userSpaceOnUse" x="-138" y="0" width="1220" height="1470"><feGaussianBlur stdDeviation="32"/></filter><filter id="m8" filterUnits="userSpaceOnUse" x="-138" y="0" width="1220" height="1470"><feGaussianBlur stdDeviation="16"/></filter><filter id="n8" x="0" y="0" width="100%" height="100%"><feTurbulence type="fractalNoise" baseFrequency="0.035" numOctaves="2" seed="11"/><feColorMatrix type="matrix" values="0 0 0 0 0.5  0 0 0 0 0.5  0 0 0 0 0.5  0.9 0 0 0 -0.32"/></filter></defs><rect x="62" y="200" width="820" height="1070" fill="#d2d2d2"/><rect x="20" y="200" width="320" height="520" fill="#bcbcbc" filter="url(#g8)"/><g filter="url(#f8)"><polygon points="40,840 110,800 235,685 350,900 560,1050 600,790 700,880 790,950 895,1150 895,1280 40,1280" fill="#505050"/><polygon points="110,810 235,690 360,930 210,1030" fill="#707070"/><polygon points="350,1060 540,1010 540,1170 330,1090" fill="#7a7a7a"/><polygon points="640,940 770,1040 620,1270 520,1270 570,1060" fill="#7c7c7c"/><polygon points="790,960 890,1150 890,1270 840,1270" fill="#282828"/><polygon points="62,900 120,1000 80,1270 62,1270" fill="#787878"/><polygon points="200,1040 330,1100 520,1180 500,1270 100,1270" fill="#686868"/><ellipse cx="210" cy="970" rx="22" ry="20" fill="#aaa"/><line x1="670" y1="1020" x2="740" y2="1060" stroke="#333" stroke-width="18" stroke-linecap="round" opacity="0.8"/><polygon points="235,690 290,680 470,860 600,790 580,1020 540,1040 380,920" fill="#262626"/><ellipse cx="445" cy="685" rx="170" ry="180" fill="#d2d2d2"/><ellipse cx="320" cy="680" rx="45" ry="130" fill="#909090" opacity="0.75"/><rect x="290" y="540" width="360" height="50" fill="#555" opacity="0.55"/><ellipse cx="425" cy="585" rx="45" ry="15" fill="#383838" opacity="0.85"/><ellipse cx="550" cy="585" rx="45" ry="15" fill="#383838" opacity="0.85"/><ellipse cx="505" cy="685" rx="28" ry="14" fill="#8a8a8a" opacity="0.7"/><ellipse cx="482" cy="742" rx="60.0" ry="11" fill="#555" opacity="0.8"/><ellipse cx="460" cy="830" rx="90" ry="22" fill="#999" opacity="0.6"/><ellipse cx="232" cy="580" rx="25" ry="48" fill="#bdbdbd"/><ellipse cx="445" cy="385" rx="278" ry="140" fill="#3a3a3a" transform="rotate(3 445 385)"/><polygon points="208,495 240,440 660,480 668,565 560,542 300,502 220,535" fill="#242424"/><polygon points="230,440 420,400 660,455 655,482 420,427 240,467" fill="#c0c0c0" opacity="0.85"/><ellipse cx="580" cy="312" rx="80" ry="30" fill="#7a7a7a" transform="rotate(15 580 312)" opacity="0.75"/></g><rect x="62" y="200" width="820" height="1070" filter="url(#n8)" opacity="0.35"/></svg></div>
<h2 class="h"><i>F/Lt</i> <b>Václav Cukr</b></h2>
<div class="badge"></div>
<div class="bt" style="left:1081.7px;top:8.2px;transform:translateX(-50%) scaleX(1.25)">–</div>
<div class="w" style="left:95px"></div><div class="b" style="left:95px"></div>
<div class="n n1" style="left:95px">8</div><div class="n n2 fr" style="left:95px">4 9<u>/</u>10</div>
<div class="w" style="left:354.6px"></div><div class="b" style="left:354.6px"></div>
<div class="n n1" style="left:354.6px">0</div><div class="n n2" style="left:354.6px">0</div>
<div class="w" style="left:716.6px"></div><div class="b" style="left:716.6px"></div>
<div class="n n1" style="left:716.6px">0</div><div class="n n2" style="left:716.6px">0</div>
<div class="l" style="left:228.6px;top:76.3px;transform:scaleX(1.075)">sestřely</div>
<div class="l" style="left:496.1px;top:62.3px;transform:scaleX(1.12)">pravděpodobné</div>
<div class="l" style="left:496.1px;top:88.3px;transform:scaleX(1.06)">sestřely</div>
<div class="l" style="left:859.3px;top:62.1px;transform:scaleX(1.089)">poškozené</div>
<div class="l" style="left:859.3px;top:88.1px;transform:scaleX(1.077)">stroje</div>
</section>
<section class="card" style="top:1340.6px">
<div class="grey"></div>
<div class="ph" style="left:6.5px;top:8.4px;width:78.5px;height:112px"><svg width="78.5" height="112" viewBox="65 190 785 1115" preserveAspectRatio="none"><defs><filter id="f9" filterUnits="userSpaceOnUse" x="-35" y="90" width="985" height="1315"><feGaussianBlur stdDeviation="8"/></filter><filter id="g9" filterUnits="userSpaceOnUse" x="-135" y="-10" width="1185" height="1515"><feGaussianBlur stdDeviation="32"/></filter><filter id="m9" filterUnits="userSpaceOnUse" x="-135" y="-10" width="1185" height="1515"><feGaussianBlur stdDeviation="16"/></filter><filter id="n9" x="0" y="0" width="100%" height="100%"><feTurbulence type="fractalNoise" baseFrequency="0.035" numOctaves="2" seed="12"/><feColorMatrix type="matrix" values="0 0 0 0 0.5  0 0 0 0 0.5  0 0 0 0 0.5  0.9 0 0 0 -0.32"/></filter></defs><rect x="65" y="190" width="785" height="1115" fill="#646464"/><g filter="url(#f9)"><rect x="65" y="190" width="785" height="62" fill="#c8c8c8"/><rect x="70" y="450" width="110" height="50" fill="#b4b4b4" opacity="0.8"/><rect x="70" y="540" width="170" height="40" fill="#b4b4b4" opacity="0.8"/><rect x="80" y="610" width="120" height="45" fill="#b4b4b4" opacity="0.8"/><rect x="620" y="420" width="90" height="40" fill="#b4b4b4" opacity="0.8"/><rect x="740" y="400" width="110" height="50" fill="#b4b4b4" opacity="0.8"/><rect x="640" y="480" width="100" height="40" fill="#b4b4b4" opacity="0.8"/><rect x="760" y="480" width="90" height="45" fill="#b4b4b4" opacity="0.8"/><rect x="600" y="560" width="110" height="45" fill="#b4b4b4" opacity="0.8"/><rect x="730" y="560" width="120" height="45" fill="#b4b4b4" opacity="0.8"/><rect x="620" y="630" width="120" height="45" fill="#b4b4b4" opacity="0.8"/><rect x="760" y="640" width="90" height="45" fill="#b4b4b4" opacity="0.8"/><rect x="610" y="700" width="100" height="40" fill="#b4b4b4" opacity="0.8"/><rect x="720" y="700" width="120" height="45" fill="#b4b4b4" opacity="0.8"/><rect x="200" y="560" width="80" height="40" fill="#b4b4b4" opacity="0.8"/><rect x="90" y="330" width="120" height="50" fill="#b4b4b4" opacity="0.8"/><rect x="620" y="330" width="200" height="40" fill="#b4b4b4" opacity="0.8"/><rect x="80" y="690" width="140" height="40" fill="#b4b4b4" opacity="0.8"/><rect x="230" y="620" width="60" height="40" fill="#b4b4b4" opacity="0.8"/><rect x="65" y="258" width="785" height="60" fill="#505050" opacity="0.65"/><polygon points="50,800 320,680 450,1000 580,700 860,810 860,1320 50,1320" fill="#3e3e42"/><polygon points="250,790 320,700 470,990 430,1000" fill="#303030"/><polygon points="580,710 650,800 500,1000 480,980" fill="#303030"/><polygon points="320,690 450,720 560,710 520,880 470,970 420,880" fill="#d0d0d0"/><polygon points="440,780 500,770 515,880 475,965 445,880" fill="#1a1a1a"/><rect x="600" y="950" width="170" height="35" fill="#e0e0e0"/><rect x="600" y="1000" width="170" height="28" fill="#b0b0b0"/><ellipse cx="505" cy="1040" rx="18" ry="18" fill="#c0c0c0"/><ellipse cx="510" cy="1220" rx="20" ry="20" fill="#c0c0c0"/><ellipse cx="225" cy="1125" rx="18" ry="18" fill="#c0c0c0"/><ellipse cx="720" cy="1090" rx="12" ry="20" fill="#bbb"/><polygon points="150,1040 380,1040 380,1160 280,1130 160,1150" fill="#5a5a5e" opacity="0.7"/><polygon points="590,1050 780,1050 770,1130 680,1150 590,1130" fill="#5a5a5e" opacity="0.7"/><rect x="780" y="800" width="70" height="500" fill="#333" opacity="0.5"/><ellipse cx="455" cy="510" rx="165" ry="220" fill="#dcdcdc"/><ellipse cx="330" cy="540" rx="42" ry="150" fill="#909090" opacity="0.65"/><ellipse cx="415" cy="452" rx="48" ry="15" fill="#444" opacity="0.8"/><ellipse cx="545" cy="445" rx="48" ry="15" fill="#444" opacity="0.8"/><ellipse cx="505" cy="535" rx="30" ry="13" fill="#888" opacity="0.7"/><ellipse cx="495" cy="590" rx="70.0" ry="14" fill="#3c3c3c" opacity="0.8"/><ellipse cx="480" cy="690" rx="90" ry="25" fill="#999" opacity="0.6"/><ellipse cx="240" cy="500" rx="25" ry="56" fill="#c0c0c0"/><polygon points="278,405 298,300 400,243 520,258 602,340 602,405 542,312 420,288 330,328 310,445" fill="#585858"/></g><rect x="65" y="190" width="785" height="1115" filter="url(#n9)" opacity="0.35"/></svg></div>
<h2 class="h"><i>S/Ldr</i> <b>Otmar Kučera</b></h2>
<div class="badge" style="left:1000.4px"></div>
<div class="bt" style="left:1080.8px">DFC</div>
<div class="w" style="left:95px"></div><div class="b" style="left:95px"></div>
<div class="n n1" style="left:95px">7</div><div class="n n2 fr" style="left:95px">5 5<u>/</u>6</div>
<div class="w" style="left:354.6px"></div><div class="b" style="left:354.6px"></div>
<div class="n n1" style="left:354.6px">1</div><div class="n n2" style="left:354.6px">1</div>
<div class="w" style="left:716.6px"></div><div class="b" style="left:716.6px"></div>
<div class="n n1" style="left:716.6px">1</div><div class="n n2" style="left:716.6px">1</div>
<div class="l" style="left:228.6px;top:76.3px;transform:scaleX(1.075)">sestřely</div>
<div class="l" style="left:496.1px;top:62.3px;transform:scaleX(1.12)">pravděpodobné</div>
<div class="l" style="left:496.1px;top:88.3px;transform:scaleX(1.06)">sestřely</div>
<div class="l" style="left:859.3px;top:62.1px;transform:scaleX(1.089)">poškozené</div>
<div class="l" style="left:859.3px;top:88.1px;transform:scaleX(1.077)">stroje</div>
</section>
<div class="lg" style="top:1498.6px;height:40.4px;box-sizing:border-box;border:1px solid #7c7fa6;background:#fff"></div>
<div class="lg" style="top:1542px;height:39px;background:#4fcaf9"></div>
<div class="n" style="left:13.5px;top:1504.6px;color:#030857">8</div>
<div class="n fr" style="left:13.5px;top:1547.4px;color:#fff">6 1<u>/</u>3</div>
<div class="l" style="left:148.3px;top:1506.4px;transform:scaleX(1.095)">francouzská norma</div>
<div class="l" style="left:148.3px;top:1545.4px;transform:scaleX(1.096)">britská norma</div>
<svg style="position:absolute;left:920px;top:1400px" width="260" height="198" viewBox="0 0 1180 899">
<g fill="#060b58">
<path d="M622 380 C626 340 636 295 648 260 C663 215 695 145 732 90 C752 60 775 42 800 35 C815 28 835 28 850 38 C868 50 876 75 880 110 C886 160 888 220 888 260 L885 360 C920 356 980 354 1010 357 C1030 359 1060 372 1085 385 C1092 390 1090 396 1072 412 C1062 422 1052 432 1045 438 C1036 448 1028 456 1020 462 C1010 470 1000 474 990 477 C978 481 962 483 950 484 L945 497 L868 505 C866 540 858 580 853 600 C844 640 830 680 812 715 C795 755 773 800 744 835 C729 855 714 866 699 870 C685 873 672 868 660 858 C643 842 625 815 613 790 C605 770 597 745 595 720 C590 690 588 660 590 640 C592 610 595 590 598 565 C575 555 555 546 530 540 C495 533 455 530 420 528 C380 525 340 523 300 522 L195 520 C190 535 185 545 178 553 C170 563 160 574 150 580 C138 590 122 598 110 600 C100 602 90 600 85 595 C78 585 74 572 75 560 C74 548 75 535 78 525 C68 518 57 510 50 500 C42 490 38 478 38 465 C36 452 37 438 40 425 C43 413 48 402 55 395 C62 387 71 381 80 380 C90 378 102 383 110 390 C114 382 119 376 125 372 C135 366 148 363 160 363 C172 363 185 368 195 375 C204 382 210 391 213 400 C217 410 218 420 218 430 L218 455 C260 447 305 439 350 430 C395 421 440 413 480 405 C510 400 535 395 560 390 C570 387 580 382 590 380 Z"/>
<path d="M487 352 L492 350 L511 399 L503 403 Z"/>
<path d="M1020 218 C1012 250 1010 290 1013 320 C1016 345 1022 365 1030 375 L1040 375 C1043 350 1042 320 1040 300 C1036 265 1028 235 1020 218 Z"/>
<path d="M1030 420 C1030 450 1034 490 1040 520 C1044 545 1050 565 1055 578 C1058 560 1058 530 1055 500 C1052 470 1048 440 1042 418 Z"/>
</g></svg>

</body></html>
